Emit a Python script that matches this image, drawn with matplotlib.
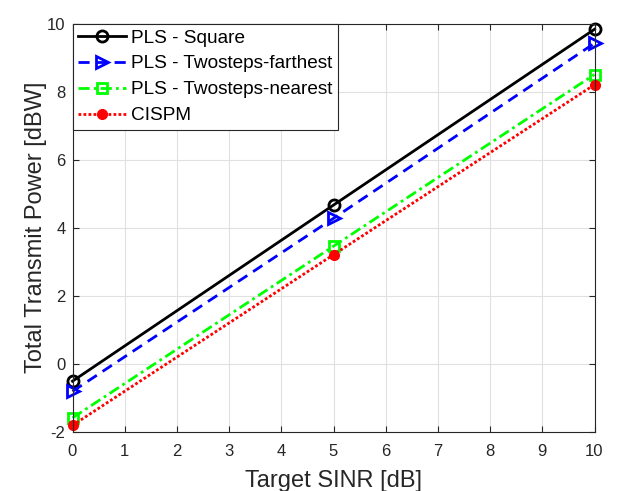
import matplotlib
matplotlib.use("Agg")
import matplotlib.pyplot as plt

plt.rcParams["font.family"] = ["Liberation Sans", "DejaVu Sans"]
plt.rcParams["axes.unicode_minus"] = False

sinr = [0, 5, 10]
square = [-0.52, 4.66, 9.83]
far = [-0.82, 4.27, 9.42]
near = [-1.6, 3.45, 8.5]
cispm = [-1.82, 3.2, 8.2]

fig = plt.figure(figsize=(6.2, 4.91), dpi=100)
ax = fig.add_axes([72.5/620, 1 - 431.5/491, 522/620, 408/491])

ax.plot(sinr, square, "k-", lw=2, marker="o", ms=8, mfc="none", mew=2,
        label="PLS - Square", clip_on=False)
ax.plot(sinr, far, color="b", ls=(0, (4, 2.5)), lw=2, marker=">", ms=9,
        mfc="none", mew=2, label="PLS - Twosteps-farthest", clip_on=False)
ax.plot(sinr, near, color=(0, 1, 0), ls=(0, (4, 1.5, 1, 1.5)), lw=2,
        marker="s", ms=7, mfc="none", mew=2, label="PLS - Twosteps-nearest",
        clip_on=False)
ax.plot(sinr, cispm, color="r", ls=(0, (1, 0.8)), lw=2, marker="o", ms=7,
        label="CISPM", clip_on=False)

ax.set_xlim(0, 10)
ax.set_ylim(-2, 10)
ax.set_xticks(range(0, 11))
ax.set_yticks(range(-2, 11, 2))
ax.grid(True, color="#e0e0e0", lw=0.8)
ax.set_axisbelow(True)
ax.tick_params(direction="in", top=True, right=True, labelsize=12,
               length=4, colors="#262626")
ax.tick_params(axis="x", pad=9)
ax.tick_params(axis="y", pad=5)
for s in ax.spines.values():
    s.set_color("#262626")
    s.set_linewidth(0.8)
ax.set_xlabel("Target SINR [dB]", fontsize=17, color="#262626", labelpad=8)
ax.set_ylabel("Total Transmit Power [dBW]", fontsize=17, color="#262626",
              labelpad=0)

leg = ax.legend(loc="upper left", fontsize=13.7, fancybox=False,
                edgecolor="#262626", framealpha=1, handlelength=2.5,
                borderaxespad=0, borderpad=0.3, labelspacing=0.45,
                handletextpad=0.25)
leg.get_frame().set_linewidth(0.8)
leg.set_zorder(5)

fig.savefig("out.png", dpi=100)
